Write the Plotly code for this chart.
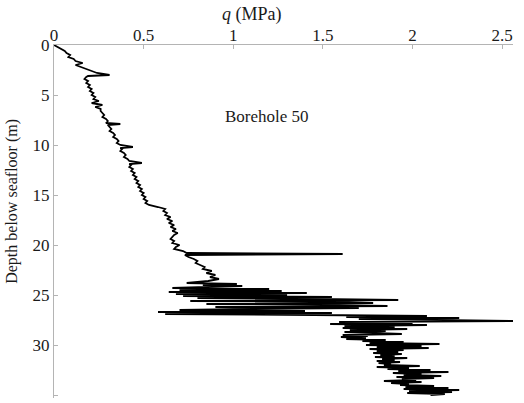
import plotly.graph_objects as go

# Cone penetration profile, Borehole 50: net resistance q (MPa) against depth (m)
depth_upper = [
    0.0, 0.2, 0.4, 0.6, 0.8, 1.0, 1.2, 1.4, 1.6, 1.8, 2.0, 2.2, 2.4, 2.6, 2.8, 3.0, 3.1,
    3.2, 3.4, 3.6, 3.8, 4.0, 4.2, 4.4, 4.6, 4.8, 5.0, 5.2, 5.4, 5.6, 5.8, 6.0, 6.2,
    6.4, 6.6, 6.8, 7.0, 7.2, 7.4, 7.6, 7.8, 7.9, 8.0, 8.2, 8.4, 8.6, 8.8, 9.0, 9.2,
    9.4, 9.6, 9.8, 10.0, 10.2, 10.3, 10.4, 10.6, 10.8, 11.0, 11.2, 11.4, 11.6, 11.8,
    11.9, 12.0, 12.2, 12.4, 12.6, 12.8, 13.0, 13.2, 13.4, 13.6, 13.8, 14.0, 14.2,
    14.4, 14.6, 14.8, 15.0, 15.2, 15.4, 15.6, 15.8, 16.0, 16.2, 16.4, 16.6, 16.8,
    17.0, 17.2, 17.4, 17.6, 17.8, 18.0, 18.2, 18.4, 18.6, 18.8, 19.0, 19.2, 19.4,
    19.6, 19.8, 20.0, 20.2, 20.4, 20.6, 20.8, 20.9, 21.0, 21.2, 21.4, 21.6, 21.8,
    22.0, 22.2, 22.4, 22.6, 22.8, 23.0, 23.2, 23.4, 23.6, 23.8, 23.9, 24.0,
]
q_upper = [
    0.00, 0.02, 0.04, 0.06, 0.07, 0.09, 0.08, 0.11, 0.12, 0.16, 0.12, 0.15, 0.17, 0.21, 0.24, 0.31, 0.19,
    0.18, 0.17, 0.19, 0.18, 0.20, 0.19, 0.21, 0.20, 0.22, 0.21, 0.23, 0.22, 0.25, 0.21, 0.27, 0.23,
    0.26, 0.26, 0.27, 0.28, 0.27, 0.29, 0.30, 0.29, 0.37, 0.30, 0.31, 0.32, 0.31, 0.33, 0.34, 0.33,
    0.35, 0.36, 0.35, 0.37, 0.44, 0.37, 0.38, 0.37, 0.39, 0.40, 0.39, 0.41, 0.42, 0.49,
    0.42, 0.43, 0.42, 0.44, 0.43, 0.45, 0.44, 0.46, 0.45, 0.47, 0.46, 0.48, 0.47,
    0.49, 0.48, 0.50, 0.49, 0.51, 0.50, 0.52, 0.51, 0.53, 0.58, 0.62, 0.61, 0.63,
    0.62, 0.65, 0.63, 0.66, 0.64, 0.67, 0.65, 0.68, 0.66, 0.69, 0.67, 0.66, 0.65,
    0.67, 0.66, 0.70, 0.68, 0.67, 0.72, 0.74, 1.61, 0.73, 0.75, 0.78, 0.80, 0.79,
    0.82, 0.84, 0.83, 0.88, 0.85, 0.90, 0.87, 0.92, 0.86, 0.74, 1.02, 0.83,
]

depth_lower = [
    24.1, 24.2, 24.3, 24.4, 24.5, 24.6, 24.7, 24.8, 24.9, 25.0, 25.1, 25.2, 25.3, 25.4,
    25.5, 25.6, 25.7, 25.8, 25.9, 26.0, 26.1, 26.2, 26.3, 26.4, 26.5, 26.6, 26.7, 26.8,
    26.9, 27.0, 27.1, 27.2, 27.3, 27.4, 27.5, 27.6, 27.7, 27.8, 27.9, 28.0, 28.1, 28.2,
    28.3, 28.4, 28.5, 28.6, 28.7, 28.8, 28.9, 29.0, 29.1, 29.2, 29.3, 29.4, 29.5, 29.6,
    29.7, 29.8, 29.9, 30.0, 30.1, 30.2, 30.3, 30.4, 30.5, 30.6, 30.7, 30.8, 30.9, 31.0,
    31.1, 31.2, 31.3, 31.4, 31.5, 31.6, 31.7, 31.8, 31.9, 32.0, 32.1, 32.2, 32.3, 32.4,
    32.5, 32.6, 32.7, 32.8, 32.9, 33.0, 33.1, 33.2, 33.3, 33.4, 33.5, 33.6, 33.7, 33.8,
    33.9, 34.0, 34.1, 34.2, 34.3, 34.4, 34.5, 34.6, 34.7, 34.8, 34.9, 35.0,
]
q_lower = [
    1.05, 0.80, 0.66, 1.20, 0.70, 1.27, 0.64, 1.41, 0.68, 1.30, 0.72, 1.55, 0.80, 1.45,
    1.92, 0.76, 1.60, 1.78, 0.85, 1.50, 1.86, 0.90, 1.70, 1.10, 0.70, 1.40, 0.58, 1.55,
    0.62, 1.45, 2.08, 1.63, 2.26, 1.70, 2.10, 2.56, 1.59, 2.00, 1.54, 2.08, 1.62, 1.90,
    1.61, 1.97, 1.65, 1.85, 1.62, 1.80, 1.94, 1.61, 1.75, 1.60, 1.74, 1.63, 1.85, 1.72,
    1.95, 1.76, 2.15, 1.74, 2.05, 1.80, 2.09, 1.76, 1.95, 1.80, 1.92, 1.78, 1.94, 1.82,
    1.90, 1.79, 1.97, 1.83, 1.90, 1.80, 1.93, 1.81, 1.88, 1.84, 2.04, 1.80, 1.98, 1.86,
    2.10, 1.92, 2.20, 1.89, 2.05, 1.95, 2.16, 1.91, 2.12, 1.94, 2.02, 1.84, 2.05, 1.88,
    1.98, 1.93, 2.12, 1.96, 2.20, 1.95, 2.26, 1.98, 2.22, 1.97, 2.18, 2.10,
]

depth = depth_upper + depth_lower
q = q_upper + q_lower

x_ticks = [0, 0.5, 1, 1.5, 2, 2.5]
y_ticks = [0, 5, 10, 15, 20, 25, 30, 35]

serif = "Times New Roman, Liberation Serif, Tinos, DejaVu Serif, serif"
ink = "#1a1a1a"
axis_grey = "#b4b4b4"

fig = go.Figure()
fig.add_trace(go.Scatter(
    x=q, y=depth, mode="lines",
    line=dict(color="black", width=1.8),
    showlegend=False, hoverinfo="skip",
))

fig.update_layout(
    width=524, height=403,
    margin=dict(l=54, r=11, t=45, b=5, pad=0),
    paper_bgcolor="white", plot_bgcolor="white",
    font=dict(family=serif, size=17, color=ink),
    xaxis=dict(
        side="top", range=[0, 2.56], tickvals=x_ticks,
        ticktext=[f"{v:g}" for v in x_ticks],
        showgrid=False, zeroline=False,
        showline=True, linecolor=axis_grey, linewidth=1,
        ticks="inside", ticklen=4, tickcolor=axis_grey, tickwidth=1,
        ticklabelstandoff=-4,
        tickfont=dict(family=serif, size=17, color=ink),
    ),
    yaxis=dict(
        range=[35.3, 0], tickvals=y_ticks,
        showgrid=False, zeroline=False,
        showline=True, linecolor=axis_grey, linewidth=1,
        ticks="inside", ticklen=4, tickcolor=axis_grey, tickwidth=1,
        tickfont=dict(family=serif, size=17, color=ink),
    ),
    annotations=[
        dict(
            text="<i>q</i> (MPa)", xref="paper", yref="paper",
            x=0.432, y=1.085, showarrow=False,
            font=dict(family=serif, size=18, color=ink),
            xanchor="center", yanchor="middle",
        ),
        dict(
            text="Depth below seafloor (m)", xref="paper", yref="paper",
            x=-0.092, y=0.558, showarrow=False, textangle=-90,
            font=dict(family=serif, size=16, color=ink),
            xanchor="center", yanchor="middle",
        ),
        dict(
            text="Borehole 50", xref="x", yref="y",
            x=1.19, y=7.1, showarrow=False,
            font=dict(family=serif, size=17, color=ink),
            xanchor="center", yanchor="middle",
        ),
    ],
)

fig.write_html("out.html")
